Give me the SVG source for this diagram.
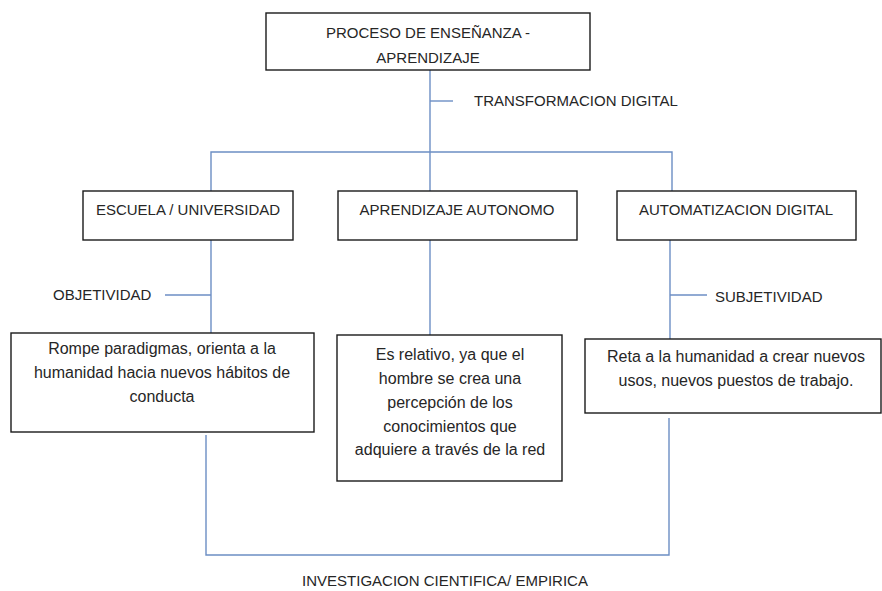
<svg xmlns="http://www.w3.org/2000/svg" width="882" height="591" viewBox="0 0 882 591">
<style>
.box{fill:#fff;stroke:#1a1a1a;stroke-width:1.4}
.ln{fill:none;stroke:#6c8ec4;stroke-width:1.4}
.cap{font-family:"Liberation Sans",Arial,sans-serif;font-size:15px;fill:#262626}
.body{font-family:"Liberation Sans",Arial,sans-serif;font-size:16px;fill:#262626;text-anchor:middle}
.mid{text-anchor:middle}
</style>
<rect width="882" height="591" fill="#fff"/>
<g id="connectors">
<path class="ln" d="M430 70V191"/>
<path class="ln" d="M430 101H453"/>
<path class="ln" d="M211 191V152H672V191"/>
<path class="ln" d="M211 240V333"/>
<path class="ln" d="M165 295H211"/>
<path class="ln" d="M430 240V335"/>
<path class="ln" d="M670 240V339"/>
<path class="ln" d="M670 295H707"/>
<path class="ln" d="M206 435V555H669V418"/>
</g>
<g id="top">
<rect class="box" x="266" y="13" width="324" height="57"/>
<text class="cap mid" x="428" y="38">PROCESO DE ENSEÑANZA -</text>
<text class="cap mid" x="428" y="63">APRENDIZAJE</text>
</g>
<g id="lbl-transformacion"><text class="cap" x="474" y="106">TRANSFORMACION DIGITAL</text></g>
<g id="escuela">
<rect class="box" x="83" y="191" width="210" height="49"/>
<text class="cap mid" x="188" y="215">ESCUELA / UNIVERSIDAD</text>
</g>
<g id="aprendizaje">
<rect class="box" x="338" y="191" width="239" height="49"/>
<text class="cap mid" x="457" y="215">APRENDIZAJE AUTONOMO</text>
</g>
<g id="automatizacion">
<rect class="box" x="617" y="191" width="239" height="49"/>
<text class="cap mid" x="736" y="215">AUTOMATIZACION DIGITAL</text>
</g>
<g id="lbl-objetividad"><text class="cap" x="53" y="300">OBJETIVIDAD</text></g>
<g id="lbl-subjetividad"><text class="cap" x="715" y="302">SUBJETIVIDAD</text></g>
<g id="rompe">
<rect class="box" x="11" y="333" width="303" height="99"/>
<text class="body" x="162" y="354">Rompe paradigmas, orienta a la</text>
<text class="body" x="162" y="378">humanidad hacia nuevos hábitos de</text>
<text class="body" x="162" y="402">conducta</text>
</g>
<g id="relativo">
<rect class="box" x="337" y="335" width="225" height="146"/>
<text class="body" x="450" y="360">Es relativo, ya que el</text>
<text class="body" x="450" y="384">hombre se crea una</text>
<text class="body" x="450" y="408">percepción de los</text>
<text class="body" x="450" y="432">conocimientos que</text>
<text class="body" x="450" y="455">adquiere a través de la red</text>
</g>
<g id="reta">
<rect class="box" x="585" y="339" width="296" height="74"/>
<text class="body" x="736" y="362">Reta a la humanidad a crear nuevos</text>
<text class="body" x="736" y="386">usos, nuevos puestos de trabajo.</text>
</g>
<g id="lbl-investigacion"><text class="cap mid" x="445" y="586">INVESTIGACION CIENTIFICA/ EMPIRICA</text></g>
</svg>
